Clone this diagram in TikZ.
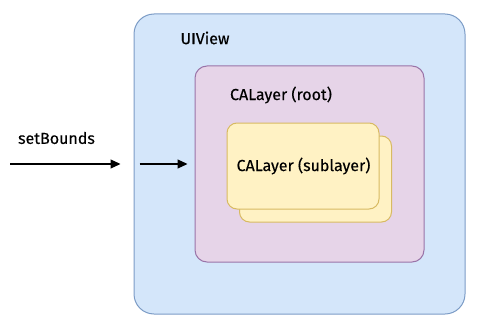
\documentclass[tikz,border=0pt]{standalone}
\usepackage{fontspec}
\setmainfont{Fira Sans}[FakeBold=0.3]
\usetikzlibrary{arrows.meta}
\definecolor{viewfill}{HTML}{D4E6FA}
\definecolor{viewdraw}{HTML}{7C9CC6}
\definecolor{rootfill}{HTML}{E6D4E8}
\definecolor{rootdraw}{HTML}{9A74A8}
\definecolor{subfill}{HTML}{FFF2C4}
\definecolor{subdraw}{HTML}{D8BA62}
\begin{document}
\begin{tikzpicture}[
  x=1pt, y=-1pt,
  box/.style={rectangle, line width=1pt, inner sep=0pt},
  viewbox/.style={box, draw=viewdraw, fill=viewfill, rounded corners=20pt,
                  minimum width=331pt, minimum height=300pt},
  rootbox/.style={box, draw=rootdraw, fill=rootfill, rounded corners=12pt,
                  minimum width=229pt, minimum height=196pt},
  subbox/.style={box, draw=subdraw, fill=subfill, rounded corners=10pt,
                 minimum width=152pt, minimum height=86pt},
  lbl/.style={font=\fontsize{16}{19}\selectfont, inner sep=0pt},
  arr/.style={-{Triangle[length=10pt,width=9pt]}, line width=1.2pt}
]
\useasboundingbox (0,0) rectangle (486,334);
\node[viewbox] (view) at (299.5,164) {};
\node[rootbox] (root) at (309.5,164) {};
\node[subbox]  (back) at (315.5,179) {};
\node[subbox]  (front) at (303,166) {};
\node[lbl] (viewlbl) at (205,38) {UIView};
\node[lbl] (rootlbl) at (281,95) {CALayer (root)};
\node[lbl] (sublbl) at (303.5,166) {CALayer (sublayer)};
\node[lbl] (setlbl) at (56.5,138) {setBounds};
\coordinate (src) at (10,164);
\draw[arr, shorten >=13pt] (src) -- (view.west);
\draw[arr, shorten <=6pt, shorten >=7pt] (view.west) -- (root.west);
\end{tikzpicture}
\end{document}
